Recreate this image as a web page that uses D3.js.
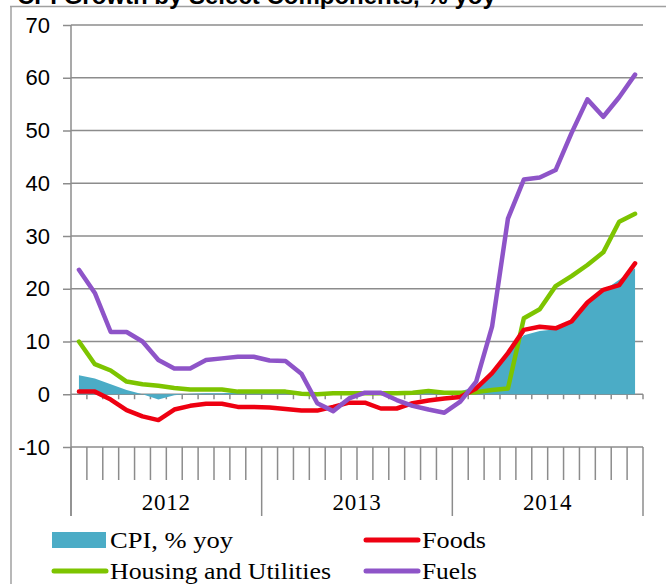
<!DOCTYPE html>
<html>
<head>
<meta charset="utf-8">
<script src="https://cdn.jsdelivr.net/npm/d3@7"></script>
<style>
  body { margin: 0; background: #fff; }
  svg { display: block; }
</style>
</head>
<body>
<svg id="chart" width="666" height="584"></svg>
<script>
// chart data, monthly Jan 2012 - Dec 2014
const years = ["2012", "2013", "2014"];
const monthNames = ["Jan","Feb","Mar","Apr","May","Jun","Jul","Aug","Sep","Oct","Nov","Dec"];
const months = years.flatMap(y => monthNames.map(m => m + " " + y));

const cpi = [3.6, 3.0, 1.9, 0.8, 0.0, -1.0, -0.2, 0.1, 0.2, 0.2, 0.4, 0.5,
             0.4, 0.3, 0.2, 0.1, 0.2, 0.3, 0.3, 0.3, 0.3, 0.4, 0.4, 0.3,
             0.5, 1.5, 4.0, 8.1, 11.2, 12.0, 12.3, 13.6, 17.2, 19.6, 21.7, 23.9];
const foods = [0.5, 0.5, -1.0, -3.0, -4.2, -4.9, -2.9, -2.2, -1.8, -1.8, -2.4, -2.4,
               -2.5, -2.8, -3.1, -3.1, -2.4, -1.6, -1.6, -2.7, -2.7, -1.7, -1.2, -0.8,
               -0.5, 1.1, 4.0, 7.8, 12.2, 12.8, 12.5, 13.8, 17.4, 19.8, 20.7, 24.8];
const housing = [10.0, 5.7, 4.5, 2.4, 1.9, 1.6, 1.2, 0.9, 0.9, 0.9, 0.5, 0.5,
                 0.5, 0.5, 0.1, 0.0, 0.2, 0.2, 0.2, 0.2, 0.2, 0.3, 0.6, 0.3,
                 0.3, 0.4, 0.8, 1.1, 14.4, 16.1, 20.5, 22.4, 24.5, 26.9, 32.7, 34.2];
const fuels = [23.6, 19.2, 11.8, 11.8, 10.0, 6.5, 4.9, 4.9, 6.5, 6.8, 7.1, 7.1,
               6.4, 6.3, 3.9, -1.7, -3.2, -0.8, 0.3, 0.3, -1.1, -2.2, -2.9, -3.5,
               -1.4, 2.4, 12.8, 33.3, 40.7, 41.1, 42.5, 49.5, 55.9, 52.6, 56.3, 60.6];
const yTicks = [-10, 0, 10, 20, 30, 40, 50, 60, 70];

const title = "CPI Growth by Select Components, % yoy";

const svg = d3.select("#chart");

// outer frame, the picture is clipped at top and right
svg.append("line").attr("x1", 11).attr("x2", 11).attr("y1", 6).attr("y2", 584)
  .attr("stroke", "#a0a0a0").attr("stroke-width", 1.5);
svg.append("line").attr("x1", 10).attr("x2", 666).attr("y1", 6.5).attr("y2", 6.5)
  .attr("stroke", "#a0a0a0").attr("stroke-width", 1.5);

svg.append("text")
  .attr("x", 17).attr("y", 3.5)
  .style("font-family", "'Liberation Sans', Arial, sans-serif")
  .style("font-weight", "bold")
  .style("font-size", "24px")
  .text(title);

const x = d3.scaleBand().domain(months).range([71, 643]);
const y = d3.scaleLinear().domain([-10, 70]).range([447, 25]);
const cx = m => x(m) + x.bandwidth() / 2;

const grid = "#8c8c8c";

// gridlines
svg.append("g").selectAll("line")
  .data(yTicks)
  .enter()
  .append("line")
  .attr("x1", 71).attr("x2", 643)
  .attr("y1", d => y(d)).attr("y2", d => y(d))
  .attr("stroke", grid).attr("stroke-width", 1.5);

// y axis
const yAxis = svg.append("g")
  .attr("transform", "translate(71,0)")
  .call(d3.axisLeft(y).tickValues(yTicks).tickFormat(d => String(d))
    .tickSize(8).tickSizeOuter(0).tickPadding(13));
yAxis.select(".domain").remove();
yAxis.selectAll("line").attr("stroke", grid).attr("stroke-width", 1.5);
yAxis.selectAll("text")
  .style("font-family", "'Liberation Sans', Arial, sans-serif")
  .style("font-size", "22px")
  .attr("fill", "#000");
svg.append("line").attr("x1", 71).attr("x2", 71).attr("y1", y(70)).attr("y2", 516)
  .attr("stroke", grid).attr("stroke-width", 1.5);

// month boundaries
const bounds = months.map(m => x(m)).concat([643]);

// small ticks under the zero line
svg.append("g").selectAll("line")
  .data(bounds.slice(1))
  .enter()
  .append("line")
  .attr("x1", d => d).attr("x2", d => d)
  .attr("y1", y(0)).attr("y2", y(0) + 5)
  .attr("stroke", grid).attr("stroke-width", 1.5);

// long ticks under the bottom line
svg.append("g").selectAll("line")
  .data(bounds)
  .enter()
  .append("line")
  .attr("x1", d => d).attr("x2", d => d)
  .attr("y1", y(-10)).attr("y2", (d, i) => i % 12 === 0 ? 516 : 480)
  .attr("stroke", grid).attr("stroke-width", 1.5);

// year labels
svg.append("g").selectAll("text")
  .data(years)
  .enter()
  .append("text")
  .attr("x", (d, i) => (x(months[i * 12]) + x(months[i * 12 + 11]) + x.bandwidth()) / 2)
  .attr("y", 510)
  .attr("text-anchor", "middle")
  .style("font-family", "'Liberation Serif', 'Times New Roman', serif")
  .style("font-size", "23px")
  .style("letter-spacing", "0.8px")
  .text(d => d);

// CPI area
const area = d3.area()
  .x((d, i) => cx(months[i]))
  .y0(y(0))
  .y1(d => y(d));
svg.append("path")
  .datum(cpi)
  .attr("d", area)
  .attr("fill", "#4bacc6");

const line = d3.line()
  .x((d, i) => cx(months[i]))
  .y(d => y(d))
  .curve(d3.curveLinear);

const series = [
  { name: "Housing and Utilities", values: housing, color: "#7dc400" },
  { name: "Foods", values: foods, color: "#ee0011" },
  { name: "Fuels", values: fuels, color: "#8e54c8" }
];

svg.append("g").selectAll("path")
  .data(series)
  .enter()
  .append("path")
  .attr("d", d => line(d.values))
  .attr("fill", "none")
  .attr("stroke", d => d.color)
  .attr("stroke-width", 4.5)
  .attr("stroke-linejoin", "round")
  .attr("stroke-linecap", "round");

// legend
const legendFont = "'Liberation Serif', 'Times New Roman', serif";
const legend = [
  { name: "CPI, % yoy", color: "#4bacc6", type: "area", lx: 52, ly: 540, w: 123 },
  { name: "Foods", color: "#ee0011", type: "line", lx: 364, ly: 540, w: 64 },
  { name: "Housing and Utilities", color: "#7dc400", type: "line", lx: 52, ly: 571, w: 221 },
  { name: "Fuels", color: "#8e54c8", type: "line", lx: 364, ly: 571, w: 55 }
];
const lg = svg.append("g").selectAll("g")
  .data(legend)
  .enter()
  .append("g")
  .attr("transform", d => `translate(${d.lx},${d.ly})`);

lg.filter(d => d.type === "area").append("rect")
  .attr("x", 0).attr("y", -8).attr("width", 54).attr("height", 16)
  .attr("fill", d => d.color);
lg.filter(d => d.type === "line").append("line")
  .attr("x1", 2).attr("x2", 54).attr("y1", 0).attr("y2", 0)
  .attr("stroke", d => d.color).attr("stroke-width", 5)
  .attr("stroke-linecap", "round");
lg.append("text")
  .attr("x", 58).attr("y", 8)
  .attr("textLength", d => d.w)
  .attr("lengthAdjust", "spacingAndGlyphs")
  .style("font-family", legendFont)
  .style("font-size", "24px")
  .text(d => d.name);
</script>
</body>
</html>
